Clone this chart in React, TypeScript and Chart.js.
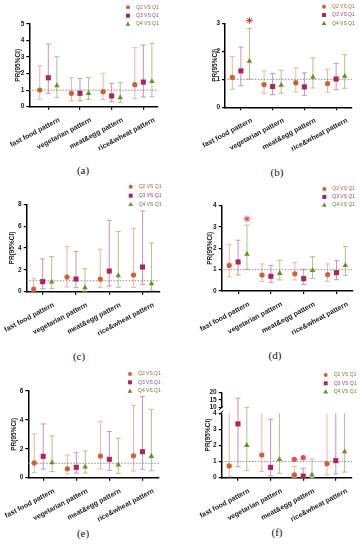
import React, { useEffect, useRef } from 'react';
import { Chart, registerables } from 'chart.js';
Chart.register(...registerables);

const FONT = 'Liberation Sans, Arial, sans-serif';

const categories = ['fast food pattern', 'vegetarian pattern', 'meat&egg pattern', 'rice&wheat pattern'];
const seriesNames = ['Q2 VS Q1', 'Q3 VS Q1', 'Q4 VS Q1'];

// rows: Q2, Q3, Q4 ; columns: categories
const aPR = [[1.01, 0.81, 0.91, 1.33], [1.75, 0.81, 0.65, 1.49], [1.27, 0.81, 0.54, 1.53]];
const aLow = [[0.44, 0.36, 0.44, 0.48], [0.81, 0.36, 0.30, 0.58], [0.56, 0.44, 0.26, 0.60]];
const aHigh = [[2.46, 1.75, 2.02, 3.57], [3.79, 1.71, 1.41, 3.73], [3.02, 1.77, 1.45, 3.83]];

const bPR = [[1.07, 0.81, 0.88, 0.85], [1.30, 0.74, 0.73, 1.01], [1.65, 0.79, 1.08, 1.11]];
const bLow = [[0.64, 0.50, 0.55, 0.54], [0.77, 0.45, 0.43, 0.63], [1.01, 0.50, 0.69, 0.68]];
const bHigh = [[1.81, 1.30, 1.40, 1.36], [2.15, 1.21, 1.23, 1.57], [2.81, 1.32, 1.77, 1.88]];
const bSig = [[null, null, null, null], [null, null, null, null], [3.1, null, null, null]];

const cPR = [[0.24, 1.34, 1.16, 1.53], [0.92, 1.16, 1.89, 2.26], [0.89, 0.37, 1.47, 0.73]];
const cLow = [[0.06, 0.43, 0.37, 0.40], [0.27, 0.37, 0.52, 0.67], [0.27, 0.06, 0.40, 0.09]];
const cHigh = [[1.19, 4.12, 3.88, 5.80], [2.99, 3.69, 6.53, 7.39], [3.21, 2.11, 5.50, 4.46]];

const dPR = [[1.20, 0.75, 0.81, 0.77], [1.36, 0.69, 0.58, 0.86], [1.73, 0.83, 0.97, 1.20]];
const dLow = [[0.66, 0.45, 0.52, 0.45], [0.75, 0.41, 0.31, 0.53], [1.02, 0.52, 0.59, 0.73]];
const dHigh = [[2.19, 1.27, 1.34, 1.27], [2.38, 1.20, 1.02, 1.42], [3.09, 1.44, 1.61, 2.09]];
const dSig = [[null, null, null, null], [null, null, null, null], [3.38, null, null, null]];

const ePR = [[1.02, 0.62, 1.50, 1.52], [1.48, 0.72, 1.27, 1.80], [1.04, 0.74, 0.88, 1.48]];
const eLow = [[0.35, 0.25, 0.60, 0.46], [0.60, 0.32, 0.51, 0.58], [0.42, 0.32, 0.30, 0.48]];
const eHigh = [[3.03, 1.57, 3.90, 5.01], [3.72, 1.73, 3.19, 5.61], [2.89, 1.85, 2.73, 4.73]];

const fPR = [[0.73, 1.41, 0.17, 0.87], [3.34, 0.64, 0.10, 1.06], [2.01, 1.14, 0.17, 1.62]];
const fLow = [[0.06, 0.39, 0.02, 0.17], [0.68, 0.12, 0.02, 0.23], [0.44, 0.27, 0.02, 0.35]];
const fHigh = [[6.5, 7.0, 0.70, 5.5], [16.0, 3.63, 0.58, 6.0], [10.0, 6.0, 1.16, 8.0]];
const fSig = [[null, null, 1.14, null], [null, null, 1.24, null], [null, null, null, null]];

const ticksA = [0, 1, 2, 3, 4, 5];
const ticksB = [0, 1, 2, 3];
const ticksC = [0, 2, 4, 6, 8];
const ticksD = [0, 1, 2, 3, 4];
const ticksE = [0, 2, 4, 6];
const ticksF = [0, 1, 2, 3, 4, 10, 15, 20];

const markerColors = ['#D0602F', '#B0245C', '#6A8F22'];
const barColors = ['#E8B6A0', '#CF93AC', '#AEC38F'];
const legendTextColors = ['#A86048', '#98486C', '#647F38'];
const pointStyles = ['circle', 'rect', 'triangle'];
const pointRadii = [2.6, 3.6, 3.2];
const seriesOffsets = [-0.27, 0, 0.27];

const brk = (v: number) => (v <= 4 ? v : v >= 10 ? 4.37 + (v - 10) * 0.093 : 4);
const ident = (v: number) => v;

type Cfg = {
  ox: number; oy: number; W: number; H: number;
  L: number; R: number; T: number; B: number;
  xmin: number; xmax: number; yticks: number[];
  pr: number[][]; lo: number[][]; hi: number[][]; sig?: (number | null)[][]; sigStyle?: string;
  titleX: number; legendX: number; legendRows: number[];
  caption: string; capX: number; capY: number; broken?: boolean;
};

const panels: Cfg[] = [
  { ox: 0, oy: 0, W: 180, H: 160, L: 29.3, R: 157.6, T: 24, B: 106.7, xmin: -0.6, xmax: 3.45, yticks: ticksA,
    pr: aPR, lo: aLow, hi: aHigh, titleX: 18, legendX: 128, legendRows: [7.3, 15.7, 24], caption: '(a)', capX: 83, capY: 170 },
  { ox: 180, oy: 0, W: 181, H: 160, L: 45, R: 172, T: 23.3, B: 107.3, xmin: -0.5, xmax: 3.5, yticks: ticksB,
    pr: bPR, lo: bLow, hi: bHigh, sig: bSig, sigStyle: 'star', titleX: 35, legendX: 144, legendRows: [6.7, 15, 23.3], caption: '(b)', capX: 97, capY: 172 },
  { ox: 0, oy: 180, W: 180, H: 160, L: 26.7, R: 159.2, T: 24.3, B: 111.7, xmin: -0.48, xmax: 3.5, yticks: ticksC,
    pr: cPR, lo: cLow, hi: cHigh, titleX: 12.5, legendX: 130.7, legendRows: [6.7, 15.7, 24.3], caption: '(c)', capX: 79, capY: 176 },
  { ox: 180, oy: 180, W: 181, H: 160, L: 41.7, R: 172.9, T: 25.7, B: 111, xmin: -0.5, xmax: 3.5, yticks: ticksD,
    pr: dPR, lo: dLow, hi: dHigh, sig: dSig, sigStyle: 'star', titleX: 30, legendX: 144.3, legendRows: [9, 17, 25], caption: '(d)', capX: 95, capY: 175 },
  { ox: 0, oy: 360, W: 180, H: 165, L: 28.3, R: 159, T: 31, B: 117.7, xmin: -0.45, xmax: 3.5, yticks: ticksE,
    pr: ePR, lo: eLow, hi: eHigh, titleX: 14, legendX: 130, legendRows: [14, 22.3, 31], caption: '(e)', capX: 83, capY: 173 },
  { ox: 180, oy: 360, W: 181, H: 165, L: 41.7, R: 172.1, T: 32.3, B: 117.7, xmin: -0.5, xmax: 3.5, yticks: ticksF,
    pr: fPR, lo: fLow, hi: fHigh, sig: fSig, sigStyle: 'dot', titleX: 28.3, legendX: 145.7, legendRows: [15, 23.3, 31.7], caption: '(f)', capX: 97, capY: 172, broken: true },
];

function Panel({ cfg }: { cfg: Cfg }) {
  const ref = useRef<HTMLCanvasElement>(null);
  useEffect(() => {
    const tr = cfg.broken ? brk : ident;
    const datasets: any[] = [];
    datasets.push({
      type: 'line', data: [{ x: cfg.xmin, y: 1 }, { x: cfg.xmax, y: 1 }],
      borderColor: '#8c8c8c', borderWidth: 1, borderDash: [1.5, 1.5], pointRadius: 0, order: 10, clip: false,
    });
    seriesNames.forEach((name, s) => {
      datasets.push({
        type: 'scatter', label: name,
        data: categories.map((_, i) => ({ x: i + seriesOffsets[s], y: tr(cfg.pr[s][i]) })),
        pointStyle: pointStyles[s], pointRadius: pointRadii[s], backgroundColor: markerColors[s],
        borderColor: markerColors[s], borderWidth: 0, order: 1, clip: false,
      });
    });
    if (cfg.sig) {
      const pts: any[] = [];
      cfg.sig.forEach((row, s) => row.forEach((v, i) => { if (v != null) pts.push({ x: i + seriesOffsets[s], y: tr(v) }); }));
      datasets.push({
        type: 'scatter', label: 'sig', data: pts,
        pointStyle: cfg.sigStyle === 'star' ? 'star' : 'circle',
        pointRadius: cfg.sigStyle === 'star' ? 3.2 : 2.6,
        backgroundColor: '#F04848', borderColor: cfg.sigStyle === 'star' ? '#E83A3A' : '#F04848',
        borderWidth: cfg.sigStyle === 'star' ? 1 : 0, order: 0, clip: false,
      });
    }

    const errPlugin = {
      id: 'errbars',
      beforeDatasetsDraw(chart: any) {
        const { ctx } = chart;
        const x = chart.scales.x, y = chart.scales.y;
        ctx.save();
        ctx.lineWidth = 1;
        seriesNames.forEach((_, s) => {
          categories.forEach((__, i) => {
            const px = x.getPixelForValue(i + seriesOffsets[s]);
            const lo = cfg.lo[s][i], hi = cfg.hi[s][i];
            const truncated = !!cfg.broken && hi > 4 && hi < 10;
            const pl = y.getPixelForValue(tr(lo));
            const ph = y.getPixelForValue(truncated ? 4 : tr(hi));
            ctx.strokeStyle = barColors[s];
            ctx.beginPath();
            ctx.moveTo(px, pl); ctx.lineTo(px, ph);
            ctx.moveTo(px - 2.5, pl); ctx.lineTo(px + 2.5, pl);
            if (!truncated) { ctx.moveTo(px - 2.5, ph); ctx.lineTo(px + 2.5, ph); }
            ctx.stroke();
          });
        });
        ctx.restore();
      },
      afterDraw(chart: any) {
        const { ctx } = chart;
        ctx.save();
        seriesNames.forEach((name, s) => {
          const mx = cfg.legendX, my = cfg.legendRows[s];
          ctx.fillStyle = markerColors[s];
          ctx.beginPath();
          if (s === 0) ctx.arc(mx, my, 2, 0, Math.PI * 2);
          else if (s === 1) ctx.rect(mx - 2, my - 2, 4, 4);
          else { ctx.moveTo(mx, my - 2.4); ctx.lineTo(mx + 2.4, my + 1.8); ctx.lineTo(mx - 2.4, my + 1.8); ctx.closePath(); }
          ctx.fill();
          ctx.fillStyle = legendTextColors[s];
          ctx.font = '5px ' + FONT;
          ctx.textBaseline = 'middle';
          ctx.textAlign = 'left';
          ctx.fillText(name, mx + 8, my);
        });
        ctx.restore();
        if (cfg.broken) {
          const y = chart.scales.y;
          const lx = chart.chartArea.left;
          const p0 = y.getPixelForValue(0), p4 = y.getPixelForValue(4);
          const p10 = y.getPixelForValue(brk(10)), p20 = y.getPixelForValue(brk(20));
          ctx.save();
          ctx.strokeStyle = '#000';
          ctx.lineWidth = 1.5;
          ctx.beginPath();
          ctx.moveTo(lx, p0 + 0.75); ctx.lineTo(lx, p4);
          ctx.moveTo(lx, p10); ctx.lineTo(lx, p20);
          ctx.stroke();
          ctx.lineWidth = 1;
          ctx.beginPath();
          ctx.moveTo(lx - 2.5, p4 + 1); ctx.lineTo(lx + 1.5, p4 - 2.5);
          ctx.moveTo(lx - 2.5, p10 + 2.5); ctx.lineTo(lx + 1.5, p10 - 1);
          ctx.stroke();
          ctx.restore();
        }
      },
    };

    const titleFont = 6.5;
    const chart = new Chart(ref.current as HTMLCanvasElement, {
      type: 'scatter',
      data: { datasets },
      options: {
        responsive: false,
        animation: false,
        events: [],
        layout: { padding: { top: cfg.T, right: cfg.W - cfg.R, left: 0, bottom: 0 } },
        plugins: { legend: { display: false }, tooltip: { enabled: false } },
        scales: {
          x: {
            type: 'linear', min: cfg.xmin, max: cfg.xmax,
            afterBuildTicks: (sc: any) => { sc.ticks = categories.map((_, i) => ({ value: i })); },
            afterFit: (sc: any) => { sc.height = cfg.H - cfg.B; sc.paddingLeft = 0; sc.paddingRight = 0; },
            ticks: {
              callback: (v: any) => categories[v as number],
              minRotation: 28, maxRotation: 28, autoSkip: false, labelOffset: 11, padding: 6,
              font: { family: FONT, size: 7, weight: 'bold' }, color: '#1a1a1a',
            },
            grid: { drawOnChartArea: false, drawTicks: true, tickLength: 3, color: '#000', lineWidth: 1.2 },
            border: { display: true, color: '#000', width: 1.5 },
          },
          y: {
            type: 'linear', min: 0, max: tr(cfg.yticks[cfg.yticks.length - 1]),
            afterBuildTicks: (sc: any) => { sc.ticks = cfg.yticks.map((v) => ({ value: tr(v) })); },
            afterFit: (sc: any) => { sc.width = cfg.L; sc.paddingTop = 0; sc.paddingBottom = 0; },
            ticks: {
              autoSkip: false, padding: 2,
              callback: (_v: any, idx: number) => String(cfg.yticks[idx]),
              font: { family: FONT, size: 6.5, weight: 'bold' }, color: '#1a1a1a',
            },
            grid: { drawOnChartArea: false, drawTicks: true, tickLength: 3, color: '#000', lineWidth: 1.2 },
            border: { display: !cfg.broken, color: '#000', width: 1.5 },
            title: {
              display: true, text: 'PR(95%CI)', color: '#1a1a1a',
              font: { family: FONT, size: titleFont, weight: 'bold' },
              padding: { top: cfg.titleX - (titleFont * 1.2) / 2, bottom: 0 },
            },
          },
        },
      } as any,
      plugins: [errPlugin],
    });
    return () => chart.destroy();
  }, [cfg]);
  return (
    <div style={{ position: 'absolute', left: cfg.ox, top: cfg.oy, width: cfg.W, height: cfg.H + 20 }}>
      <canvas ref={ref} width={cfg.W} height={cfg.H} style={{ position: 'absolute', left: 0, top: 0 }} />
      <span style={{
        position: 'absolute', left: cfg.capX, top: cfg.capY, transform: 'translate(-50%, -50%)',
        fontFamily: 'Liberation Serif, Times New Roman, serif', fontSize: 11, color: '#111', whiteSpace: 'nowrap',
      }}>{cfg.caption}</span>
    </div>
  );
}

export default function App() {
  return (
    <div style={{ position: 'absolute', left: 0, top: 0, width: 361, height: 550, background: '#fff', overflow: 'hidden' }}>
      {panels.map((p) => <Panel key={p.caption} cfg={p} />)}
    </div>
  );
}
